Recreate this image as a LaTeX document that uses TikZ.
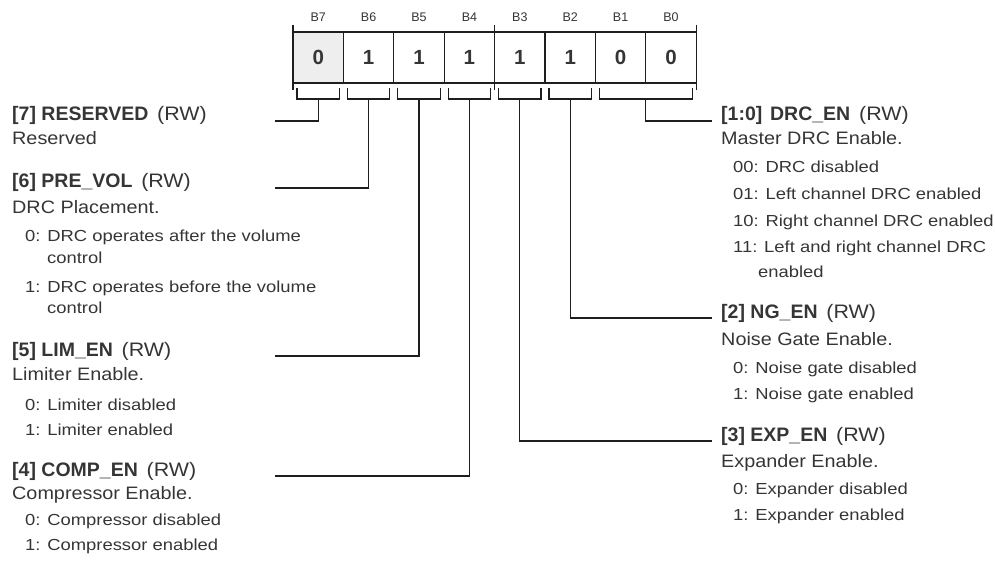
\documentclass[tikz,border=0pt]{standalone}
\usepackage{fontspec}
\setmainfont{Liberation Sans}
\newfontfamily\descfont[FakeStretch=1.1]{Liberation Sans}
\newfontfamily\optfont[FakeStretch=1.15]{Liberation Sans}
\usetikzlibrary{positioning}
\definecolor{txtgray}{HTML}{353535}
\definecolor{wiregray}{HTML}{1E1E1E}

\begin{document}
\begin{tikzpicture}[
    x=1pt, y=-1pt,
    cell/.style={rectangle, draw=wiregray, line width=1.2pt, outer sep=0pt, inner sep=0pt, minimum width=50.4pt, minimum height=51pt, text=txtgray, font=\fontsize{20.5}{20.5}\selectfont\bfseries},
    bitlabel/.style={inner sep=0pt, text=txtgray, font=\fontsize{12.5}{12.5}\selectfont},
    title/.style={anchor=base west, inner sep=0pt, text=txtgray, font=\fontsize{19.5}{20}\selectfont\bfseries},
    desc/.style={anchor=base west, inner sep=0pt, text=txtgray, font=\fontsize{18}{20}\descfont},
    opt/.style={anchor=base west, inner sep=0pt, text=txtgray, font=\fontsize{16}{18}\optfont},
    wire/.style={line width=1.25pt, wiregray},
]
\useasboundingbox (0,0) rectangle (995,561);

% Register cells
\node[cell, fill=gray!13] (b7) at (318.2,57.5) {0};
\node[cell, right=0pt of b7] (b6) {1};
\node[cell, right=0pt of b6] (b5) {1};
\node[cell, right=0pt of b5] (b4) {1};
\node[cell, right=0pt of b4] (b3) {1};
\node[cell, right=0pt of b3] (b2) {1};
\node[cell, right=0pt of b2] (b1) {0};
\node[cell, right=0pt of b1] (b0) {0};

% Bit labels
\node[bitlabel, above=10pt of b7] (l7) {B7};
\node[bitlabel, above=10pt of b6] (l6) {B6};
\node[bitlabel, above=10pt of b5] (l5) {B5};
\node[bitlabel, above=10pt of b4] (l4) {B4};
\node[bitlabel, above=10pt of b3] (l3) {B3};
\node[bitlabel, above=10pt of b2] (l2) {B2};
\node[bitlabel, above=10pt of b1] (l1) {B1};
\node[bitlabel, above=10pt of b0] (l0) {B0};

% Nibble ticks
\draw[wire] ([yshift=7pt]b7.north west) -- ([yshift=-7pt]b7.south west);
\draw[wire] ([yshift=7pt]b4.north east) -- ([yshift=-7pt]b4.south east);
\draw[wire] ([yshift=7pt]b0.north east) -- ([yshift=-7pt]b0.south east);

% Brackets
\draw[wire] ([xshift=4pt,yshift=-5pt]b7.south west) -- ++(0,11) -| ([xshift=-4pt,yshift=-5pt]b7.south east);
\draw[wire] ([xshift=4pt,yshift=-5pt]b6.south west) -- ++(0,11) -| ([xshift=-4pt,yshift=-5pt]b6.south east);
\draw[wire] ([xshift=4pt,yshift=-5pt]b5.south west) -- ++(0,11) -| ([xshift=-4pt,yshift=-5pt]b5.south east);
\draw[wire] ([xshift=4pt,yshift=-5pt]b4.south west) -- ++(0,11) -| ([xshift=-4pt,yshift=-5pt]b4.south east);
\draw[wire] ([xshift=4pt,yshift=-5pt]b3.south west) -- ++(0,11) -| ([xshift=-4pt,yshift=-5pt]b3.south east);
\draw[wire] ([xshift=4pt,yshift=-5pt]b2.south west) -- ++(0,11) -| ([xshift=-4pt,yshift=-5pt]b2.south east);
\draw[wire] ([xshift=4pt,yshift=-5pt]b1.south west) -- ++(0,11) -| ([xshift=-4pt,yshift=-5pt]b0.south east);

% Stem points
\coordinate (s7) at ([yshift=-16pt]b7.south);
\coordinate (s6) at ([yshift=-16pt]b6.south);
\coordinate (s5) at ([yshift=-16pt]b5.south);
\coordinate (s4) at ([yshift=-16pt]b4.south);
\coordinate (s3) at ([yshift=-16pt]b3.south);
\coordinate (s2) at ([yshift=-16pt]b2.south);
\coordinate (s10) at ([yshift=-16pt]b1.south east);

% Field ends
\coordinate (e7) at (275,121);
\coordinate (e6) at (275,188);
\coordinate (e5) at (275,356);
\coordinate (e4) at (275,476);
\coordinate (e10) at (712,121);
\coordinate (e2) at (712,318);
\coordinate (e3) at (712,441);

% Left fields
\node[title] (t7) at (12,121) {[7] RESERVED\hspace{0.45em}{\descfont\mdseries (RW)}};
\node[desc] (d7) at (12,145) {Reserved};

\node[title] (t6) at (12,188) {[6] PRE\_VOL\hspace{0.45em}{\descfont\mdseries (RW)}};
\node[desc] (d6) at (12,214) {DRC Placement.};
\node[opt] (o6a) at (25,242) {0: DRC operates after the volume};
\node[opt] (o6aw) at (47,263) {control};
\node[opt] (o6b) at (25,292) {1: DRC operates before the volume};
\node[opt] (o6bw) at (47,313) {control};

\node[title] (t5) at (12,356) {[5] LIM\_EN\hspace{0.45em}{\descfont\mdseries (RW)}};
\node[desc] (d5) at (12,380) {Limiter Enable.};
\node[opt] (o5a) at (25,410) {0: Limiter disabled};
\node[opt] (o5b) at (25,435) {1: Limiter enabled};

\node[title] (t4) at (12,476) {[4] COMP\_EN\hspace{0.45em}{\descfont\mdseries (RW)}};
\node[desc] (d4) at (12,499) {Compressor Enable.};
\node[opt] (o4a) at (25,525) {0: Compressor disabled};
\node[opt] (o4b) at (25,550) {1: Compressor enabled};

% Right fields
\node[title] (t10) at (721,121) {[1:0]\hspace{0.4em}DRC\_EN\hspace{0.45em}{\descfont\mdseries (RW)}};
\node[desc] (d10) at (721,145) {Master DRC Enable.};
\node[opt] (o10a) at (733,173) {00: DRC disabled};
\node[opt] (o10b) at (733,200) {01: Left channel DRC enabled};
\node[opt] (o10c) at (733,227) {10: Right channel DRC enabled};
\node[opt] (o10d) at (733,253) {11: Left and right channel DRC};
\node[opt] (o10dw) at (758,277) {enabled};

\node[title] (t2) at (721,318) {[2] NG\_EN\hspace{0.45em}{\descfont\mdseries (RW)}};
\node[desc] (d2) at (721,345) {Noise Gate Enable.};
\node[opt] (o2a) at (733,373) {0: Noise gate disabled};
\node[opt] (o2b) at (733,399) {1: Noise gate enabled};

\node[title] (t3) at (721,441) {[3] EXP\_EN\hspace{0.45em}{\descfont\mdseries (RW)}};
\node[desc] (d3) at (721,467) {Expander Enable.};
\node[opt] (o3a) at (733,494) {0: Expander disabled};
\node[opt] (o3b) at (733,520) {1: Expander enabled};

% Leader lines
\draw[wire] (s7) |- (e7);
\draw[wire] (s6) |- (e6);
\draw[wire] (s5) |- (e5);
\draw[wire] (s4) |- (e4);
\draw[wire] (s10) |- (e10);
\draw[wire] (s2) |- (e2);
\draw[wire] (s3) |- (e3);

\end{tikzpicture}
\end{document}
